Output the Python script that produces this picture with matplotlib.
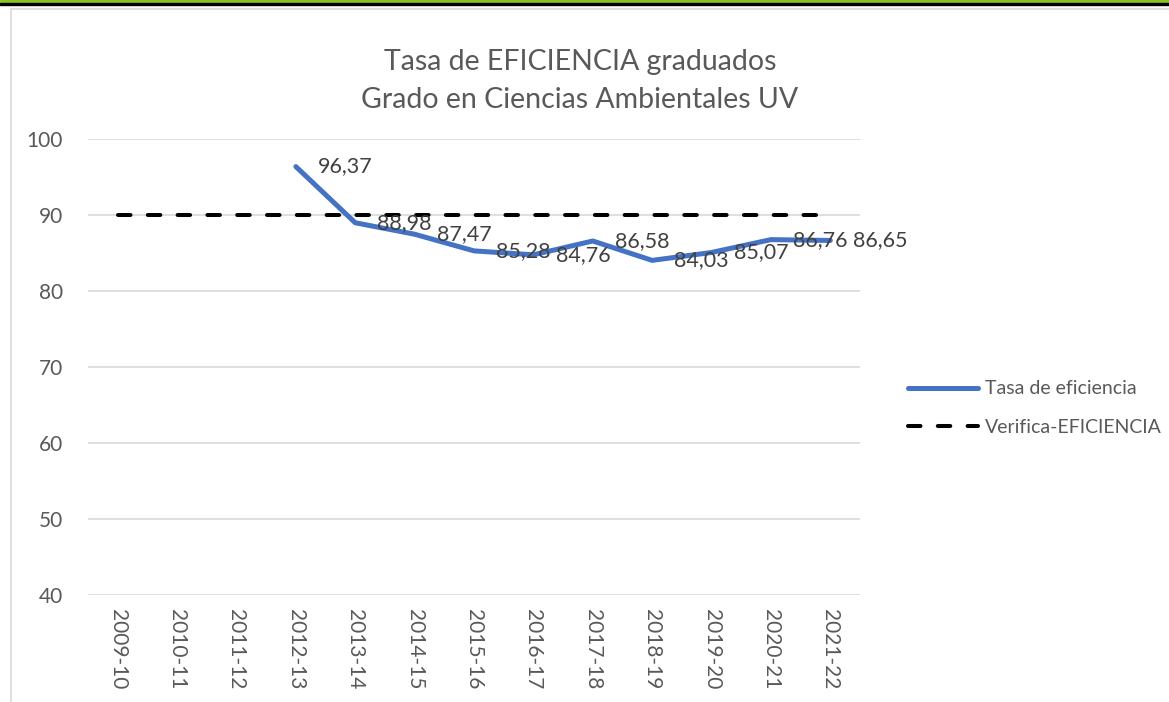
import numpy as np
import matplotlib
matplotlib.use("Agg")
import matplotlib.pyplot as plt
from matplotlib.patches import Rectangle

plt.rcParams['font.family'] = ['Lato', 'DejaVu Sans']

# data
cursos = ['2009-10', '2010-11', '2011-12', '2012-13', '2013-14', '2014-15', '2015-16',
          '2016-17', '2017-18', '2018-19', '2019-20', '2020-21', '2021-22']
tasa = [np.nan, np.nan, np.nan, 96.37, 88.98, 87.47, 85.28, 84.76, 86.58, 84.03, 85.07, 86.76, 86.65]
verifica = [90] * len(cursos)
etiquetas = ['', '', '', '96,37', '88,98', '87,47', '85,28', '84,76', '86,58', '84,03', '85,07', '86,76', '86,65']

gris = '#595959'
fig = plt.figure(figsize=(11.69, 7.02), dpi=100)

# frame decoration (top bar + chart border)
fig.patches.append(Rectangle((0, 1 - 3 / 702), 1, 3 / 702, transform=fig.transFigure,
                             color='#8dc21f', zorder=0))
fig.patches.append(Rectangle((0, 1 - 5 / 702), 1, 2 / 702, transform=fig.transFigure,
                             color='black', zorder=0))
fig.patches.append(Rectangle((10.5 / 1169, -0.05), 1.2, 1 - 8.5 / 702 + 0.05,
                             transform=fig.transFigure, fill=False,
                             edgecolor='#d9d9d9', linewidth=1.2, zorder=0))

ax = fig.add_axes([88 / 1169, 1 - 595 / 702, 772 / 1169, 456 / 702])
x = np.arange(len(cursos))
ax.plot(x, tasa, color='#4472C4', linewidth=3.6, solid_capstyle='round',
        label='Tasa de eficiencia', zorder=3)
ax.plot(x, verifica, color='black', linewidth=2.9, dashes=(3.1, 4.3),
        dash_capstyle='round', label='Verifica-EFICIENCIA', zorder=4)

for xi, yi, t in zip(x, tasa, etiquetas):
    if t:
        ax.annotate(t, (xi, yi), xytext=(16, 0), textcoords='offset points',
                    ha='left', va='center', fontsize=15.5, color='#404040', zorder=5)

ax.set_xlim(-0.5, len(cursos) - 0.5)
ax.set_ylim(40, 100)
ax.set_yticks(range(40, 101, 10))
ax.set_xticks(x)
ax.set_xticklabels(cursos, rotation=270, fontsize=15, color=gris)
ax.tick_params(axis='y', labelsize=15, labelcolor=gris, length=0, pad=18)
ax.tick_params(axis='x', length=0, pad=10)
ax.grid(axis='y', color='#d9d9d9', linewidth=1.2)
ax.set_axisbelow(True)
for s in ax.spines.values():
    s.set_visible(False)

fig.text(580 / 1169, 1 - 62 / 702, 'Tasa de EFICIENCIA graduados', ha='center',
         va='center', fontsize=20.5, color=gris)
fig.text(580 / 1169, 1 - 100 / 702, 'Grado en Ciencias Ambientales UV', ha='center',
         va='center', fontsize=20.5, color=gris)

leg = ax.legend(loc='center left', bbox_to_anchor=(1.04, 0.41), frameon=False,
                fontsize=14, handlelength=3.6, handletextpad=0.35, labelspacing=1.1)
for t in leg.get_texts():
    t.set_color(gris)

fig.savefig('out.png', dpi=100)
